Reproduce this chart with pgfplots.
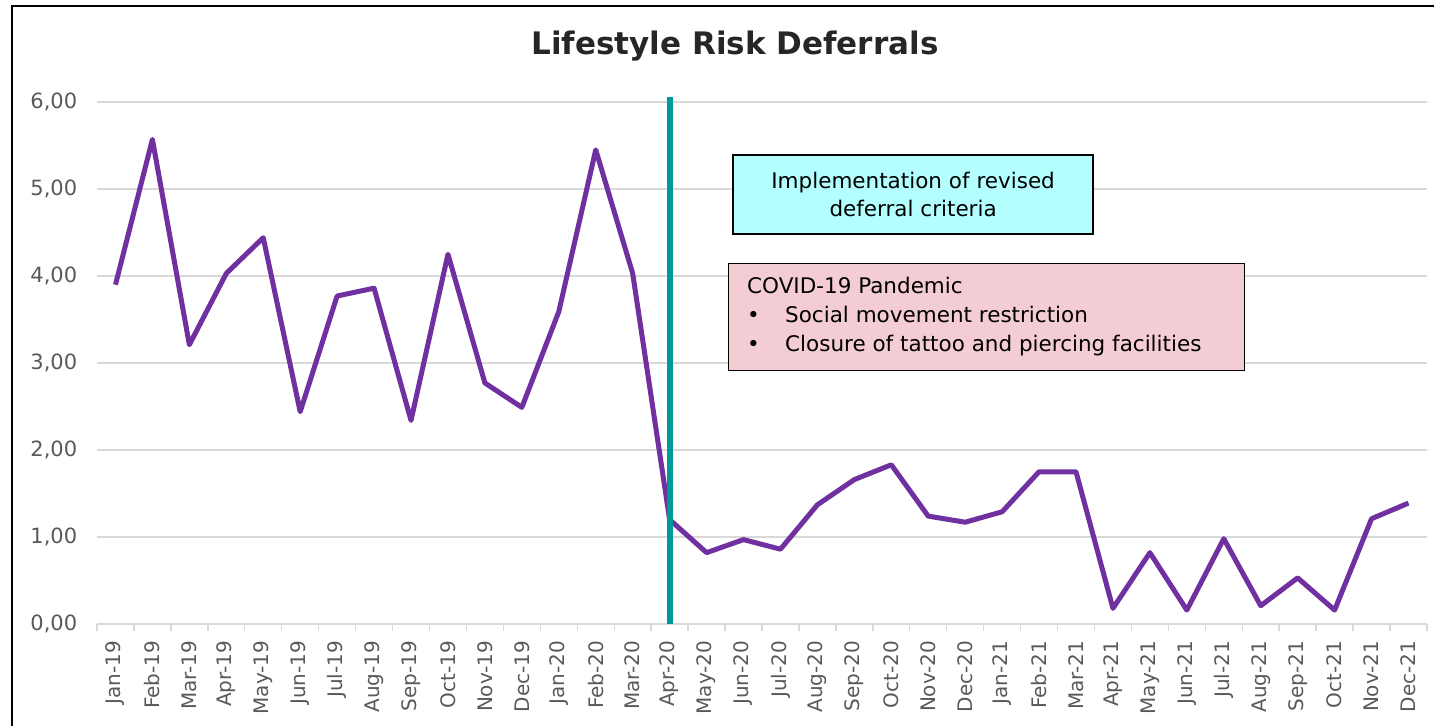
\documentclass[border=0pt]{standalone}
\usepackage{fontspec}
\setmainfont{DejaVu Sans}
\usepackage{pgfplots}
\pgfplotsset{compat=1.18}
\definecolor{lineP}{RGB}{112,48,160}
\definecolor{tealV}{RGB}{0,153,153}
\definecolor{gridG}{RGB}{217,217,217}
\definecolor{tickG}{RGB}{89,89,89}
\definecolor{boxC}{RGB}{179,255,255}
\definecolor{boxP}{RGB}{244,204,211}
\definecolor{titleK}{RGB}{38,38,38}

\begin{document}
\begin{tikzpicture}
\useasboundingbox (0,0) rectangle (1434pt,726pt);
\draw[line width=2.4pt] (12pt,0) -- (12pt,720pt) -- (1434pt,720pt);
\node[font=\fontsize{31}{36}\selectfont\bfseries, text=titleK] at (735pt,680pt) {Lifestyle Risk Deferrals};
\begin{axis}[
  at={(97pt,102pt)}, anchor=south west,
  scale only axis, width=1330pt, height=522pt,
  xmin=-0.5, xmax=35.5, ymin=0, ymax=6,
  clip=false,
  axis x line*=bottom, axis y line*=left,
  x axis line style={draw=gridG, line width=1.6pt, -},
  y axis line style={draw=none},
  xtick={0,...,35},
  xticklabels={Jan-19,Feb-19,Mar-19,Apr-19,May-19,Jun-19,Jul-19,Aug-19,Sep-19,Oct-19,Nov-19,Dec-19,
    Jan-20,Feb-20,Mar-20,Apr-20,May-20,Jun-20,Jul-20,Aug-20,Sep-20,Oct-20,Nov-20,Dec-20,
    Jan-21,Feb-21,Mar-21,Apr-21,May-21,Jun-21,Jul-21,Aug-21,Sep-21,Oct-21,Nov-21,Dec-21},
  minor xtick={-0.5,0.5,...,35.5},
  major x tick style={draw=none},
  minor x tick style={draw=gridG, line width=1.4pt},
  minor tick length=7pt,
  tick align=outside,
  ytick={0,1,...,6},
  major y tick style={draw=none},
  ymajorgrids, grid style={gridG, line width=1.6pt},
  xticklabel shift=9pt,
  xticklabel style={rotate=90, anchor=east, font=\fontsize{20}{22}\selectfont, text=tickG},
  yticklabel style={font=\fontsize{21}{24}\selectfont, text=tickG, xshift=-12pt},
  /pgf/number format/.cd, fixed, fixed zerofill, precision=2, use comma, assume math mode=true,
]
\addplot[lineP, line width=5pt, line join=round] coordinates {
(0,3.90) (1,5.57) (2,3.21) (3,4.03) (4,4.44) (5,2.44) (6,3.77) (7,3.86) (8,2.34) (9,4.25)
(10,2.77) (11,2.49) (12,3.59) (13,5.45) (14,4.03) (15,1.20) (16,0.82) (17,0.97) (18,0.86)
(19,1.37) (20,1.66) (21,1.83) (22,1.24) (23,1.17) (24,1.29) (25,1.75) (26,1.75) (27,0.18)
(28,0.82) (29,0.16) (30,0.98) (31,0.21) (32,0.53) (33,0.16) (34,1.21) (35,1.39)};
\addplot[tealV, line width=6pt] coordinates {(15,0) (15,6.06)};
\node[draw=black, line width=1.4pt, fill=boxC, anchor=north west, minimum width=360pt, minimum height=79pt,
  align=center, font=\fontsize{21.5}{28}\selectfont, inner sep=0pt]
  at (axis cs:16.7,5.40) {Implementation of revised\\deferral criteria};
\node[draw=black, line width=1.4pt, fill=boxP, anchor=north west, minimum width=516pt, minimum height=107pt,
  inner sep=0pt] (covid) at (axis cs:16.58,4.15) {};
\node[anchor=north west, align=left, font=\fontsize{21.5}{29}\selectfont, inner sep=0pt]
  at ([xshift=19pt,yshift=-14pt]covid.north west)
  {COVID-19 Pandemic\\
   \makebox[38pt][l]{\textbullet}Social movement restriction\\
   \makebox[38pt][l]{\textbullet}Closure of tattoo and piercing facilities};
\end{axis}
\end{tikzpicture}
\end{document}
